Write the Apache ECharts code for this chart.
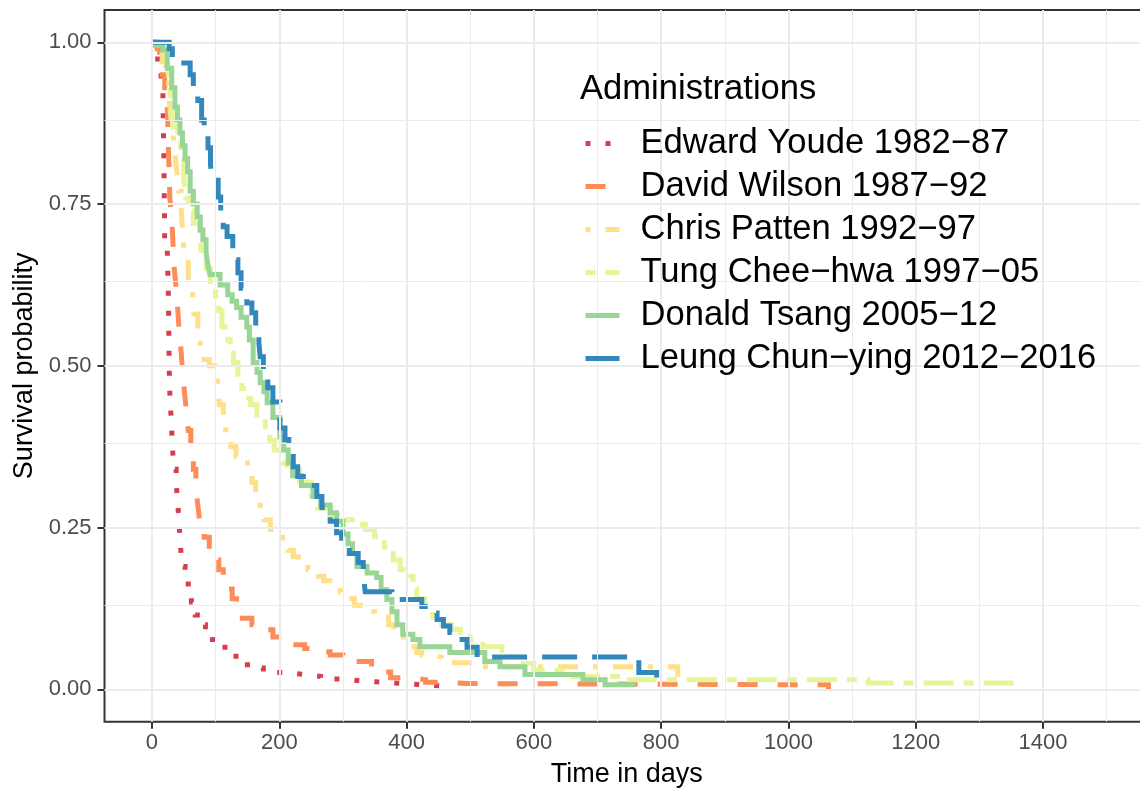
<!DOCTYPE html>
<html>
<head>
<meta charset="utf-8">
<script src="https://cdn.jsdelivr.net/npm/echarts@6/dist/echarts.min.js"></script>
<style>html,body{margin:0;padding:0;background:#fff}#c{width:1140px;height:788px}</style>
</head>
<body>
<div id="c"></div>
<script>
// ---- data ----
const seriesNames = ['Edward Youde 1982\u221287', 'David Wilson 1987\u221292', 'Chris Patten 1992\u221297',
  'Tung Chee\u2212hwa 1997\u221205', 'Donald Tsang 2005\u221212', 'Leung Chun\u2212ying 2012\u22122016'];

const youde = [[0,1],[4,0.99],[9,0.97],[14,0.95],[17,0.93],[19,0.80],[20,0.69],[24,0.68],[26,0.60],[27,0.50],
  [28,0.46],[30,0.42],[32,0.38],[34,0.34],[38,0.32],[41,0.28],[43,0.25],[45,0.22],[47,0.19],[52,0.17],[57,0.15],
  [62,0.135],[68,0.115],[76,0.10],[84,0.09],[95,0.077],[110,0.065],[122,0.055],[132,0.043],[150,0.033],[175,0.026],
  [210,0.023],[240,0.020],[265,0.016],[300,0.013],[330,0.011],[365,0.009],[395,0.007],[430,0.005],[460,0.003]];

const wilson = [[0,1],[8,0.99],[12,0.97],[16,0.95],[20,0.93],[24,0.90],[25,0.87],[26,0.83],[27,0.80],[28,0.76],
  [31,0.73],[33,0.69],[35,0.65],[38,0.62],[41,0.58],[43,0.55],[46,0.52],[48,0.49],[51,0.46],[54,0.43],[57,0.40],
  [61,0.37],[65,0.34],[69,0.31],[72,0.285],[75,0.26],[82,0.235],[90,0.215],[97,0.20],[105,0.185],[112,0.17],
  [119,0.155],[126,0.14],[133,0.125],[142,0.11],[157,0.10],[172,0.092],[190,0.081],[205,0.075],[222,0.069],
  [240,0.063],[260,0.058],[280,0.053],[300,0.047],[320,0.043],[345,0.035],[360,0.027],[375,0.018],[405,0.015],
  [430,0.011],[465,0.009],[495,0.007],[1063,0]];

const patten = [[0,1],[10,0.99],[16,0.97],[22,0.95],[26,0.93],[28,0.90],[31,0.87],[34,0.85],[37,0.82],[40,0.79],
  [42,0.77],[46,0.74],[48,0.71],[50,0.68],[53,0.66],[57,0.63],[60,0.61],[64,0.60],[66,0.58],[72,0.555],[76,0.53],
  [82,0.51],[90,0.50],[99,0.49],[103,0.465],[106,0.44],[112,0.42],[116,0.39],[124,0.375],[132,0.36],[141,0.35],
  [150,0.335],[157,0.32],[163,0.30],[170,0.28],[176,0.262],[186,0.247],[196,0.235],[205,0.225],[214,0.215],
  [222,0.205],[230,0.195],[245,0.185],[262,0.175],[270,0.168],[284,0.16],[296,0.15],[306,0.14],[318,0.13],
  [338,0.12],[350,0.112],[372,0.10],[380,0.09],[390,0.081],[400,0.066],[416,0.057],[424,0.053],[441,0.05],
  [455,0.045],[471,0.041],[504,0.035],[826,0]];

const tung = [[0,1],[15,0.99],[22,0.975],[25,0.96],[28,0.93],[31,0.90],[33,0.87],[40,0.85],[45,0.82],[50,0.79],
  [53,0.76],[58,0.74],[65,0.72],[75,0.70],[78,0.67],[85,0.65],[92,0.62],[100,0.60],[105,0.585],[110,0.56],
  [119,0.54],[123,0.52],[128,0.505],[135,0.48],[141,0.465],[148,0.45],[155,0.44],[165,0.42],[178,0.40],
  [185,0.385],[192,0.37],[205,0.35],[212,0.34],[232,0.32],[250,0.30],[260,0.28],[280,0.27],[300,0.262],
  [320,0.255],[335,0.247],[350,0.236],[365,0.22],[379,0.20],[390,0.185],[397,0.175],[410,0.155],[416,0.14],
  [429,0.128],[441,0.112],[455,0.10],[470,0.093],[485,0.088],[500,0.075],[520,0.066],[550,0.06],[560,0.05],
  [575,0.04],[600,0.03],[630,0.027],[661,0.02],[740,0.015],[1125,0.01],[1355,0]];

const tsang = [[0,1],[5,0.995],[17,0.988],[24,0.96],[31,0.93],[36,0.90],[40,0.88],[44,0.86],[48,0.84],[52,0.82],
  [56,0.80],[60,0.77],[65,0.75],[71,0.73],[76,0.71],[80,0.695],[85,0.675],[88,0.655],[91,0.641],[107,0.625],
  [119,0.61],[126,0.60],[133,0.59],[140,0.575],[149,0.56],[153,0.54],[159,0.505],[165,0.49],[170,0.474],
  [176,0.46],[181,0.443],[190,0.42],[201,0.39],[207,0.37],[214,0.35],[221,0.33],[235,0.315],[253,0.298],
  [265,0.285],[280,0.273],[290,0.26],[300,0.24],[308,0.225],[315,0.21],[322,0.19],[338,0.18],[353,0.173],
  [360,0.154],[369,0.139],[377,0.12],[385,0.10],[394,0.085],[410,0.077],[421,0.066],[468,0.057],[523,0.043],
  [547,0.035],[586,0.023],[677,0.015],[712,0.007],[760,0.007]];

const leung = [[0,1],[27,0.99],[32,0.975],[40,0.968],[60,0.95],[65,0.93],[72,0.91],[78,0.88],[82,0.857],
  [88,0.837],[92,0.81],[95,0.787],[104,0.761],[108,0.74],[112,0.715],[118,0.70],[127,0.664],[135,0.644],
  [140,0.62],[149,0.597],[157,0.582],[163,0.56],[168,0.535],[170,0.514],[175,0.49],[182,0.466],[190,0.444],
  [201,0.404],[209,0.386],[215,0.365],[222,0.344],[229,0.329],[245,0.315],[259,0.298],[267,0.281],[280,0.26],
  [290,0.242],[298,0.228],[310,0.21],[324,0.196],[332,0.177],[335,0.151],[377,0.139],[424,0.128],[440,0.118],
  [448,0.108],[458,0.098],[468,0.088],[481,0.077],[495,0.065],[511,0.05],[765,0.026],[793,0]];

const curves = [youde, wilson, patten, tung, tsang, leung];
const xTicks = [0, 200, 400, 600, 800, 1000, 1200, 1400];
const xMinorTicks = [100, 300, 500, 700, 900, 1100, 1300, 1500];
const yTicks = [0, 0.25, 0.5, 0.75, 1];
const yMinorTicks = [0.125, 0.375, 0.625, 0.875];

// ---- styles ----
const colors = ['#D53E4F', '#FC8D59', '#FEE08B', '#E6F598', '#99D594', '#3288BD'];
const dashes = [[5, 15], [20, 20], [5, 15, 20, 15], [10, 10, 30, 10], 'solid', [35, 15]];
const FONT = '"Liberation Sans", Arial, Helvetica, sans-serif';
const LW = 5;

const chart = echarts.init(document.getElementById('c'), null, {renderer: 'canvas'});

const gridLines = [];
xTicks.forEach(v => gridLines.push({xAxis: v, lineStyle: {color: '#EBEBEB', width: 2, type: 'solid'}}));
xMinorTicks.forEach(v => gridLines.push({xAxis: v, lineStyle: {color: '#EBEBEB', width: 1, type: 'solid'}}));
yTicks.forEach(v => gridLines.push({yAxis: v, lineStyle: {color: '#EBEBEB', width: 2, type: 'solid'}}));
yMinorTicks.forEach(v => gridLines.push({yAxis: v, lineStyle: {color: '#EBEBEB', width: 1, type: 'solid'}}));

const series = [{
  type: 'line', data: [], silent: true, z: 1, name: '__grid',
  markLine: {silent: true, symbol: ['none', 'none'], label: {show: false}, animation: false, data: gridLines}
}];
curves.forEach((d, i) => {
  series.push({
    name: seriesNames[i], type: 'line', step: 'end', data: d, z: 2 + i * 0.01,
    showSymbol: false, symbol: 'none',
    lineStyle: {color: colors[i], width: LW, type: dashes[i], cap: 'butt', join: 'miter'},
    itemStyle: {color: colors[i]},
    emphasis: {disabled: true}
  });
});

chart.setOption({
  animation: false,
  backgroundColor: '#ffffff',
  grid: {left: 104.5, right: -9, top: 10, bottom: 66.3, show: true, borderColor: '#333333', borderWidth: 2,
         backgroundColor: 'transparent', containLabel: false, outerBoundsMode: 'none'},
  xAxis: {
    type: 'value', min: -74.6, max: 1566.6,
    splitLine: {show: false},
    axisLine: {show: false, onZero: false},
    axisTick: {show: true, length: 7, customValues: xTicks, lineStyle: {color: '#333333', width: 2}},
    axisLabel: {customValues: xTicks, color: '#4D4D4D', fontSize: 22, margin: 10, fontFamily: FONT,
                formatter: v => String(v)},
    name: 'Time in days', nameLocation: 'middle', nameGap: 39,
    nameTextStyle: {fontSize: 27, color: '#000000', fontFamily: FONT}
  },
  yAxis: {
    type: 'value', min: -0.05, max: 1.05,
    splitLine: {show: false},
    axisLine: {show: false, onZero: false},
    axisTick: {show: true, length: 7, customValues: yTicks, lineStyle: {color: '#333333', width: 2}},
    axisLabel: {customValues: yTicks, color: '#4D4D4D', fontSize: 22, margin: 13, fontFamily: FONT,
                formatter: v => Number(v).toFixed(2)},
    name: 'Survival probability', nameLocation: 'middle', nameGap: 65.5, nameRotate: 90,
    nameTextStyle: {fontSize: 27, color: '#000000', fontFamily: FONT}
  },
  legend: {
    orient: 'vertical', left: 583, top: 122, itemWidth: 34, itemHeight: 14, itemGap: 0, padding: 0,
    selectedMode: false, z: 6,
    textStyle: {fontSize: 34.6, color: '#000000', fontFamily: FONT, lineHeight: 43, padding: [0, 0, 0, 16]},
    data: seriesNames.map((n, i) => ({
      name: n,
      itemStyle: {opacity: 0, borderWidth: 0},
      lineStyle: {color: colors[i], width: LW, type: dashes[i], cap: 'butt', opacity: 1}
    }))
  },
  graphic: [
    {type: 'rect', z: 3, silent: true, shape: {x: 567, y: 55, width: 547, height: 323}, style: {fill: '#ffffff'}},
    {type: 'text', z: 7, silent: true,
     style: {x: 580, y: 89, text: 'Administrations', fontSize: 34.6, fontFamily: FONT, fill: '#000000', verticalAlign: 'middle'}}
  ],
  series: series
});
</script>
</body>
</html>
